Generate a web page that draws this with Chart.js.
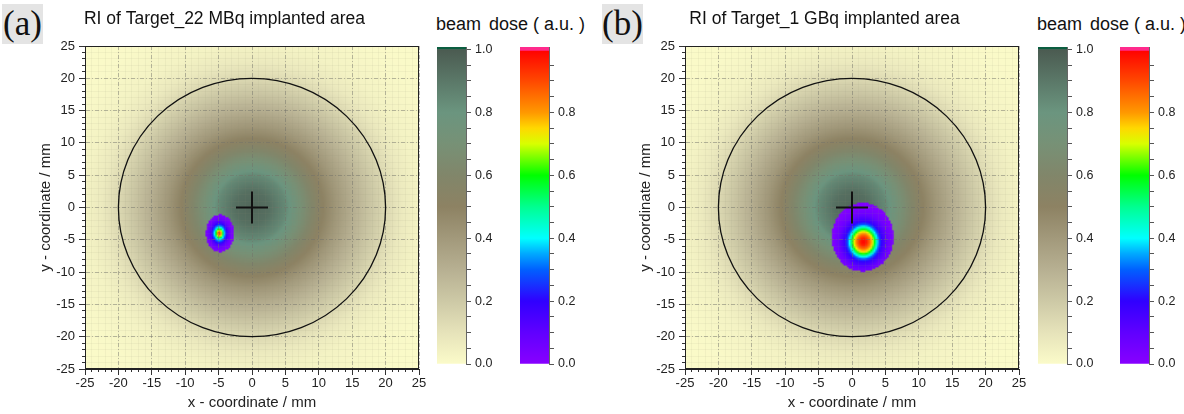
<!DOCTYPE html>
<html>
<head>
<meta charset="utf-8">
<script src="https://cdn.jsdelivr.net/npm/chart.js@4.4.1/dist/chart.umd.min.js"></script>
<style>
    body { margin: 0; background: #fff; width: 1184px; height: 414px; position: relative; overflow: hidden;
           font-family: "Liberation Sans", Arial, sans-serif; color: #111; }
    canvas { position: absolute; top: 0; }
    .tag { position: absolute; top: 4px; width: 41px; height: 40px; background: #e4e4e4; text-align: center;
           font-family: "Liberation Serif", "Times New Roman", serif; font-size: 35px; line-height: 40px; }
    .cbar { position: absolute; top: 14px; font-size: 18px; line-height: 20px; white-space: nowrap; }
</style>
</head>
<body>
<div class="tag" style="left:2px">(a)</div>
<div class="tag" style="left:602px">(b)</div>
<div class="cbar" style="left:436px">beam</div>
<div class="cbar" style="left:489px">dose ( a.u. )</div>
<div class="cbar" style="left:1037px">beam</div>
<div class="cbar" style="left:1090px">dose ( a.u. )</div>

<canvas id="panelA" width="449" height="414" style="left:0px"></canvas>
<canvas id="panelB" width="449" height="414" style="left:600px"></canvas>
<canvas id="beamA" width="61" height="414" style="left:437px"></canvas>
<canvas id="doseA" width="61" height="414" style="left:520px"></canvas>
<canvas id="beamB" width="61" height="414" style="left:1038px"></canvas>
<canvas id="doseB" width="61" height="414" style="left:1120px"></canvas>

<script>
var FONT = '"Liberation Sans", Arial, sans-serif';

// both axes run over the same range (mm)
var axisRange = [-25, 25];
var beamCentre = [0, 0];
var ringRadius = 20;

// beam intensity read along the radius (mm -> a.u.)
var beamRadius = [0, 2.5, 5, 7.5, 10, 12.5, 15, 17.5, 20, 22.5, 25, 30, 36];
var beamLevel = [0.96, 0.93, 0.84, 0.68, 0.53, 0.41, 0.31, 0.22, 0.14, 0.07, 0.035, 0.008, 0.0];

// dose of the implanted spot along its normalised radius
var doseRadius = [0, 0.1, 0.2, 0.3, 0.4, 0.5, 0.6, 0.8, 1.0];
var doseLevelA = [0.95, 0.85, 0.66, 0.45, 0.32, 0.22, 0.14, 0.06, 0.02];
var doseLevelB = [1.0, 0.96, 0.86, 0.72, 0.5, 0.3, 0.18, 0.07, 0.02];

// spot outline: centre x, centre y, half width, half height (mm); peak position (mm)
var spotA = [-4.8, -4.0, 2.1, 2.9];
var peakA = [-4.9, -4.0];
var spotB = [1.6, -4.6, 4.65, 5.3];
var peakB = [1.7, -5.3];

var titles = ['RI of Target_22 MBq implanted area', 'RI of Target_1 GBq implanted area'];

// colour scales
var beamStops = [0.0, 0.1, 0.2, 0.3, 0.4, 0.5, 0.6, 0.7, 0.8, 0.9, 1.0];
var beamColours = ['#fbfbc9', '#e6e3ba', '#cdc9a6', '#b7b092', '#a2997b', '#8d8263', '#81866a', '#779176', '#6b957f', '#5b7868', '#4b5b51'];
var doseStops = [0.0, 0.1, 0.2, 0.3, 0.35, 0.4, 0.5, 0.6, 0.7, 0.75, 0.8, 0.9, 1.0];
var doseColours = ['#8800ff', '#6000ff', '#3000ff', '#0060ff', '#00a8ff', '#00ffff', '#00ff90', '#00ff00', '#d8ff00', '#ffd800', '#ff9800', '#ff4800', '#ff0000'];
var beamOver = '#0b5e40';
var doseOver = '#ff2a8c';

Chart.defaults.font.family = FONT;

function hexToRgb(h) {
    var n = parseInt(h.slice(1), 16);
    return [(n >> 16) & 255, (n >> 8) & 255, n & 255];
}
var beamRgb = beamColours.map(hexToRgb);
var doseRgb = doseColours.map(hexToRgb);

// linear lookup in a read-off table
function lookup(xs, ys, v) {
    if (v <= xs[0]) return ys[0];
    for (var i = 1; i < xs.length; i++) {
        if (v <= xs[i]) {
            var t = (v - xs[i - 1]) / (xs[i] - xs[i - 1]);
            return ys[i - 1] + t * (ys[i] - ys[i - 1]);
        }
    }
    return ys[ys.length - 1];
}

function colourAt(stops, rgb, v) {
    return [0, 1, 2].map(function (c) {
        return lookup(stops, rgb.map(function (p) { return p[c]; }), v);
    });
}

// one cell per 0.25 mm, painted into a small bitmap
function buildMap(spot, peak, doseLevel) {
    var n = 200, step = (axisRange[1] - axisRange[0]) / n;
    var off = document.createElement('canvas');
    off.width = n; off.height = n;
    var octx = off.getContext('2d');
    var img = octx.createImageData(n, n);
    for (var j = 0; j < n; j++) {
        for (var i = 0; i < n; i++) {
            var x = axisRange[0] + (i + 0.5) * step;
            var y = axisRange[1] - (j + 0.5) * step;
            var ex = (x - spot[0]) / spot[2], ey = (y - spot[1]) / spot[3];
            var rgb;
            if (ex * ex + ey * ey <= 1) {
                var px = (x - peak[0]) / spot[2], py = (y - peak[1]) / spot[3];
                rgb = colourAt(doseStops, doseRgb, lookup(doseRadius, doseLevel, Math.sqrt(px * px + py * py)));
            } else {
                var r = Math.hypot(x - beamCentre[0], y - beamCentre[1]);
                rgb = colourAt(beamStops, beamRgb, lookup(beamRadius, beamLevel, r));
            }
            var k = (j * n + i) * 4;
            img.data[k] = rgb[0]; img.data[k + 1] = rgb[1]; img.data[k + 2] = rgb[2]; img.data[k + 3] = 255;
        }
    }
    octx.putImageData(img, 0, 0);
    return off;
}

function fieldPlugin(image) {
    return {
        id: 'field',
        // map goes under the grid lines
        beforeDraw: function (chart) {
            var xs = chart.scales.x, ys = chart.scales.y, ctx = chart.ctx;
            var l = xs.getPixelForValue(axisRange[0]), r = xs.getPixelForValue(axisRange[1]);
            var t = ys.getPixelForValue(axisRange[1]), b = ys.getPixelForValue(axisRange[0]);
            ctx.save();
            ctx.imageSmoothingEnabled = true;
            ctx.drawImage(image, l, t, r - l, b - t);
            ctx.restore();
        },
        // 20 mm ring round the beam centre
        beforeDatasetsDraw: function (chart) {
            var xs = chart.scales.x, ys = chart.scales.y, ctx = chart.ctx;
            var cx = xs.getPixelForValue(beamCentre[0]), cy = ys.getPixelForValue(beamCentre[1]);
            var rx = Math.abs(xs.getPixelForValue(beamCentre[0] + ringRadius) - cx);
            var ry = Math.abs(ys.getPixelForValue(beamCentre[1] + ringRadius) - cy);
            ctx.save();
            ctx.beginPath();
            ctx.ellipse(cx, cy, rx, ry, 0, 0, Math.PI * 2);
            ctx.lineWidth = 1.3;
            ctx.strokeStyle = '#111';
            ctx.stroke();
            ctx.restore();
        },
        afterDraw: function (chart) {
            var a = chart.chartArea, ctx = chart.ctx;
            ctx.save();
            ctx.strokeStyle = '#222';
            ctx.lineWidth = 1;
            ctx.strokeRect(Math.round(a.left) + 0.5, Math.round(a.top) + 0.5, Math.round(a.right - a.left) - 1, Math.round(a.bottom - a.top) - 1);
            ctx.restore();
        }
    };
}

function makePanel(id, title, spot, peak, doseLevel) {
    var tickFont = { size: 13, family: FONT };
    var titleFont = { size: 15, family: FONT };
    var minorGrid = 'rgba(140,140,120,0.08)';
    var majorGrid = 'rgba(110,110,105,0.45)';
    return new Chart(document.getElementById(id), {
        type: 'scatter',
        data: {
            datasets: [{
                data: [{ x: beamCentre[0], y: beamCentre[1] }],
                pointStyle: 'cross',
                pointRadius: 16,
                borderWidth: 2,
                borderColor: '#111',
                backgroundColor: '#111'
            }]
        },
        options: {
            responsive: false,
            animation: false,
            events: [],
            // left padding keeps the title centred where the original has it
            layout: { padding: { left: 30, right: 30, top: 0, bottom: 0 } },
            plugins: {
                legend: { display: false },
                tooltip: { enabled: false },
                title: {
                    display: true, text: title, color: '#111',
                    font: { size: 17.5, family: FONT, weight: 'normal' },
                    padding: { top: 9, bottom: 16 }
                }
            },
            scales: {
                xMinor: {
                    type: 'linear', axis: 'x', position: 'bottom', weight: 0,
                    min: axisRange[0], max: axisRange[1],
                    ticks: { display: false, stepSize: 1, autoSkip: false },
                    grid: { color: minorGrid, tickLength: 3, tickColor: '#333' },
                    border: { display: false },
                    afterFit: function (s) { s.height = 0; }
                },
                yMinor: {
                    type: 'linear', axis: 'y', position: 'left', weight: 0,
                    min: axisRange[0], max: axisRange[1],
                    ticks: { display: false, stepSize: 1, autoSkip: false },
                    grid: { color: minorGrid, tickLength: 3, tickColor: '#333' },
                    border: { display: false },
                    afterFit: function (s) { s.width = 0; }
                },
                x: {
                    type: 'linear', position: 'bottom', weight: 1,
                    min: axisRange[0], max: axisRange[1],
                    ticks: { stepSize: 5, autoSkip: false, maxRotation: 0, color: '#222', font: tickFont, padding: 1 },
                    grid: { color: majorGrid, tickLength: 6, tickColor: '#333' },
                    border: { color: '#222', dash: [4, 2, 1, 2] },
                    title: { display: true, text: 'x - coordinate / mm', color: '#222', font: titleFont, padding: { top: 0, bottom: 2 } },
                    afterFit: function (s) { s.height = 45; }
                },
                y: {
                    type: 'linear', position: 'left', weight: 1,
                    min: axisRange[0], max: axisRange[1],
                    ticks: { stepSize: 5, autoSkip: false, color: '#222', font: tickFont, padding: 4 },
                    grid: { color: majorGrid, tickLength: 6, tickColor: '#333' },
                    border: { color: '#222', dash: [4, 2, 1, 2] },
                    title: { display: true, text: 'y - coordinate / mm', color: '#222', font: titleFont, padding: { top: 7, bottom: 0 } },
                    afterFit: function (s) { s.width = 55; }
                }
            }
        },
        plugins: [fieldPlugin(buildMap(spot, peak, doseLevel))]
    });
}

function barGradient(chart, stops, colours) {
    var ys = chart.scales.y;
    if (!ys) return colours[0];
    var y0 = ys.getPixelForValue(0), y1 = ys.getPixelForValue(1);
    if (!isFinite(y0) || !isFinite(y1)) return colours[0];
    var g = chart.ctx.createLinearGradient(0, y0, 0, y1);
    stops.forEach(function (s, i) { g.addColorStop(s, colours[i]); });
    return g;
}

// colour bar: a single stacked bar, the scale plus a thin over-range cap
function makeBar(id, stops, colours, top, over, lastTick) {
    var barMax = 1.008;
    return new Chart(document.getElementById(id), {
        type: 'bar',
        data: {
            labels: [''],
            datasets: [{
                data: [top],
                backgroundColor: function (c) { return barGradient(c.chart, stops, colours); },
                barPercentage: 1, categoryPercentage: 1, borderWidth: 0
            }, {
                data: [barMax - top],
                backgroundColor: over,
                barPercentage: 1, categoryPercentage: 1, borderWidth: 0
            }]
        },
        options: {
            responsive: false,
            animation: false,
            events: [],
            layout: { padding: { left: 0, right: 0, top: 47, bottom: 50 } },
            plugins: { legend: { display: false }, tooltip: { enabled: false } },
            scales: {
                x: { stacked: true, display: false },
                y: {
                    stacked: true, position: 'right', min: 0, max: barMax,
                    afterBuildTicks: function (s) {
                        s.ticks = s.ticks.filter(function (t) { return t.value <= lastTick + 1e-6; });
                    },
                    ticks: {
                        stepSize: 0.05, includeBounds: false, autoSkip: false, color: '#222',
                        font: { size: 12.5, family: FONT }, padding: 4,
                        callback: function (v) {
                            return Math.abs(v * 5 - Math.round(v * 5)) < 1e-6 ? v.toFixed(1) : '';
                        }
                    },
                    grid: { drawOnChartArea: false, tickLength: 5, tickColor: '#555' },
                    border: { color: '#666' },
                    afterFit: function (s) { s.width = 32; }
                }
            }
        }
    });
}

makePanel('panelA', titles[0], spotA, peakA, doseLevelA);
makePanel('panelB', titles[1], spotB, peakB, doseLevelB);
makeBar('beamA', beamStops, beamColours, 1.0, beamOver, 1.0);
makeBar('doseA', doseStops, doseColours, 0.995, doseOver, 0.95);
makeBar('beamB', beamStops, beamColours, 1.0, beamOver, 1.0);
makeBar('doseB', doseStops, doseColours, 0.995, doseOver, 0.95);
</script>
</body>
</html>
